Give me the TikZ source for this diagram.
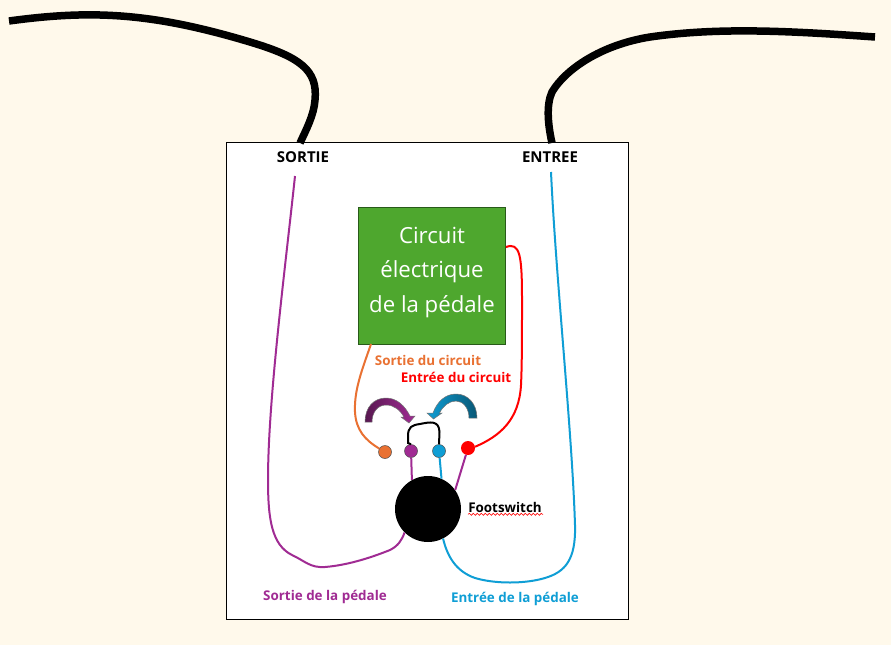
\documentclass[tikz,border=0pt]{standalone}
\usepackage{fontspec}
\setmainfont{Open Sans}
\definecolor{fondcreme}{RGB}{255, 249, 235}
\definecolor{vertbox}{RGB}{78, 167, 46}
\definecolor{vertbord}{RGB}{40, 90, 25}
\definecolor{filorange}{RGB}{233, 113, 50}
\definecolor{filviolet}{RGB}{160, 43, 147}
\definecolor{filbleu}{RGB}{15, 158, 213}
\definecolor{filrouge}{RGB}{255, 0, 0}
\usetikzlibrary{positioning, calc, decorations.pathmorphing}

\begin{document}
\begin{tikzpicture}[
  x=1pt, y=-1pt,
  cable/.style={line width=7.5pt, black},
  fil/.style={line width=2pt},
  plot/.style={circle, draw=black!70, line width=0.5pt, minimum size=13pt, inner sep=0pt},
  legende/.style={font=\bfseries\fontsize{13.4}{16}\selectfont, inner sep=0pt},
  titre/.style={font=\bfseries\fontsize{15}{18}\selectfont, inner sep=0pt},
  fleche/.style={draw=black!55, line width=0.5pt}
]
  \useasboundingbox (0,0) rectangle (891,645);
  \fill[fondcreme] (0,0) rectangle (891,645);

  \node[draw=black, fill=white, line width=1pt, minimum width=402pt, minimum height=477pt, inner sep=0pt] (boitier) at (427.5,381) {};
  \node[draw=vertbord, fill=vertbox, line width=1pt, minimum width=147pt, minimum height=137pt, inner sep=0pt] (circuit) at (432,276) {};
  \node[align=center, text=white, inner sep=0pt, font=\fontsize{22.2}{34.5}\selectfont] (circuittexte) at (432,272.5) {Circuit\\électrique\\de la pédale};

  \node[circle, fill=black, minimum size=66pt, inner sep=0pt] (footswitch) at (428,509) {};
  \node[plot, fill=filorange] (plotorange) at (385,452) {};
  \node[plot, fill=filviolet] (plotviolet) at (411,451) {};
  \node[plot, fill=filbleu] (plotbleu) at (439,451) {};
  \node[circle, fill=filrouge, minimum size=14pt, inner sep=0pt] (plotrouge) at (468,448) {};

  \node[titre] (sortie) at (303,157) {SORTIE};
  \node[titre] (entree) at (550,157) {ENTREE};
  \node[legende, text=filorange] (lblsortiecircuit) at (428,360) {Sortie du circuit};
  \node[legende, text=filrouge] (lblentreecircuit) at (456,377) {Entrée du circuit};
  \node[legende] (lblfootswitch) at (505,507) {Footswitch};
  \node[legende, text=filviolet] (lblsortiepedale) at (325,597) {Sortie de la pédale};
  \node[legende, text=filbleu] (lblentreepedale) at (515,599) {Entrée de la pédale};

  \coordinate (cableg) at (9,21);
  \coordinate (cablegbas) at (300,143);
  \coordinate (cabled) at (875,37);
  \coordinate (cabledbas) at (552,143);
  \coordinate (filsortie) at (295,176);
  \coordinate (filentree) at (551,172);
  \coordinate (sortiecircuit) at (371,344);

  \draw[cable] (cableg) .. controls (90,10) and (150,12) .. (250,42) .. controls (300,57) and (318,70) .. (315,100) .. controls (314,115) and (306,130) .. (cablegbas);
  \draw[cable] (cabled) .. controls (790,31) and (720,27) .. (650,37) .. controls (600,45) and (565,70) .. (552,92) .. controls (546,105) and (548,125) .. (cabledbas);

  \draw[fil, filviolet] (filsortie) .. controls (285,270) and (268,400) .. (268,480) .. controls (268,520) and (272,545) .. (292,555) .. controls (305,561) and (310,568) .. (325,567) .. controls (350,565) and (375,556) .. (390,550) .. controls (398,546) and (402,540) .. (footswitch.225);
  \draw[fil, filbleu] (filentree) .. controls (556,280) and (572,430) .. (575,525) .. controls (576,560) and (565,572) .. (545,578) .. controls (525,584) and (495,584) .. (475,578) .. controls (455,571) and (447,555) .. (footswitch.297);
  \draw[fil, filorange] (sortiecircuit) .. controls (362,370) and (354,390) .. (355,412) .. controls (356,430) and (365,440) .. (plotorange);
  \draw[fil, filrouge] (circuit.east |- 0,247) .. controls (520,242) and (522,255) .. (522,300) .. controls (522,335) and (522,365) .. (521,385) .. controls (519,420) and (500,436) .. (plotrouge.10);
  \draw[fil, filviolet] (plotviolet) -- (footswitch.119);
  \draw[fil, filbleu] (plotbleu) -- (footswitch.66);
  \draw[fil, filviolet] (plotrouge) -- (footswitch.35);
  \draw[line width=2pt, black] (plotviolet.north) -- (408,443) -- (408,436) .. controls (408,427) and (412,425) .. (420,424) .. controls (430,422) and (439,420) .. (439.5,432) -- (plotbleu.north);

  \path[fleche, left color=filviolet!55!black, right color=filviolet] (365,422) .. controls (365,407) and (374,398) .. (386,398) .. controls (397,398) and (405,406) .. (410,416) -- (415,416) -- (409,423) -- (401,417) -- (404,417) .. controls (400,410) and (394,405) .. (386,405) .. controls (378,405) and (372,412) .. (372,422) -- cycle;
  \path[fleche, left color=filbleu, right color=filbleu!55!black] (477,418) .. controls (477,404) and (468,394) .. (456,394) .. controls (445,394) and (437,402) .. (433,413) -- (427,413) -- (433.5,419) -- (442,413) -- (439.5,413) .. controls (443,406) and (449,401) .. (456,401) .. controls (463,401) and (469,408) .. (469,418) -- cycle;

  \draw[filrouge, line width=0.6pt, decorate, decoration={snake, amplitude=1pt, segment length=4pt}] (lblfootswitch.south west) ++(0,2) -- ++(75,0);
\end{tikzpicture}
\end{document}
